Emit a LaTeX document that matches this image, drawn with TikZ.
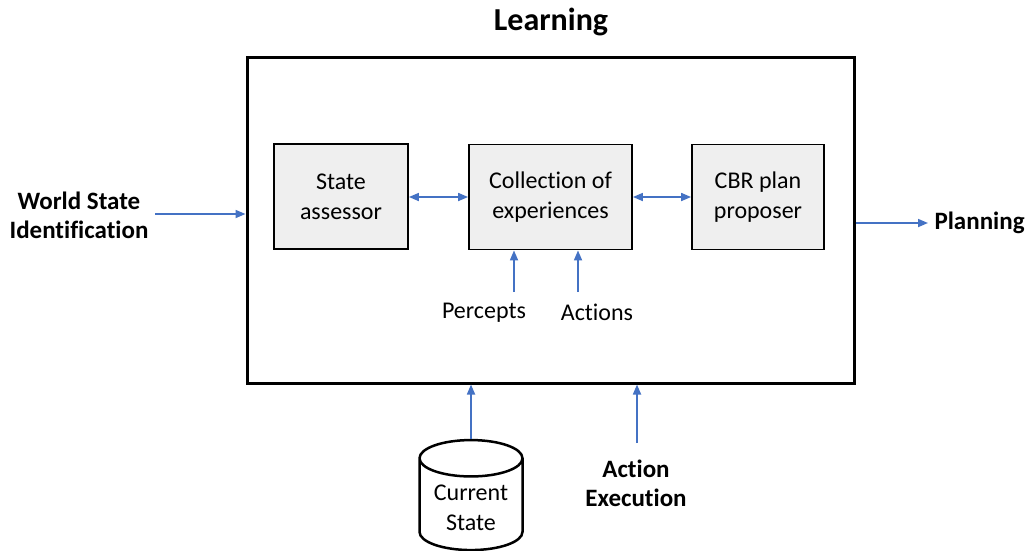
\documentclass[tikz,border=0pt]{standalone}
\usepackage{fontspec}
\setmainfont{Carlito}[Ligatures=NoCommon]
\usepackage{tikz}
\usetikzlibrary{positioning}
\usetikzlibrary{arrows.meta}
\usetikzlibrary{shapes.geometric}

\definecolor{linkblue}{HTML}{4472C4}
\definecolor{boxgray}{HTML}{EFEFEF}

\tikzset{
  part/.style={draw=black, line width=1.8pt, fill=boxgray, align=center,
    minimum width=134, minimum height=105, font=\fontsize{24}{30}\selectfont},
  link/.style={draw=linkblue, line width=1.7pt, -{Triangle[length=10pt,width=8pt]}},
  duplex/.style={link, {Triangle[length=10pt,width=8pt]}-{Triangle[length=10pt,width=8pt]}},
  plain/.style={align=center, font=\fontsize{24}{30}\selectfont},
  heading/.style={align=center, font=\fontsize{25}{29}\selectfont\bfseries}
}

\begin{document}
\begin{tikzpicture}[x=1pt, y=-1pt]
      \useasboundingbox (0,0) rectangle (1027,550);
      \node[draw, line width=3pt, minimum width=607, minimum height=326] (L) at (550.5,220) {};
      \node[heading, font=\fontsize{32}{36}\selectfont\bfseries] (T) at (551,22) {Learning};

      \node[part] (SA) at (341,196.5) {State\\assessor};
      \node[part, minimum width=163] (CE) at (550.5,197) {Collection of\\experiences};
      \node[part, minimum width=132] (CP) at (758,197) {CBR plan\\proposer};

      \node[plain] (P) at (484,313) {Percepts};
      \node[plain] (A) at (597,312) {Actions};

      \node[heading] (W) at (79,215) {World State\\Identification};
      \node[heading, anchor=west] (N) at (931,223) {Planning};
      \node[heading] (X) at (636,483) {Action\\Execution};

      \node[draw, line width=2.5pt, cylinder, shape border rotate=90, aspect=0.45,
            minimum width=103, minimum height=110, plain] (CS) at (471,508) {Current\\State};

      \coordinate (pe) at (514,292);
      \coordinate (ac) at (578,292);
      \coordinate (ax) at (637,443);
      \coordinate (wi) at (155,214);
      \coordinate (pl) at (928,223);

      \draw[duplex] (SA.east |- 0,197) -- (CE.west |- 0,197);
      \draw[duplex] (CE.east |- 0,197) -- (CP.west |- 0,197);
      \draw[link] (pe) -- (pe |- CE.south);
      \draw[link] (ac) -- (ac |- CE.south);
      \draw[link] (wi) -- (wi -| L.west);
      \draw[link] (pl -| L.east) -- (pl);
      \draw[link] (CS.top) -- (CS.top |- L.south);
      \draw[link] (ax) -- (ax |- L.south);
\end{tikzpicture}
\end{document}
